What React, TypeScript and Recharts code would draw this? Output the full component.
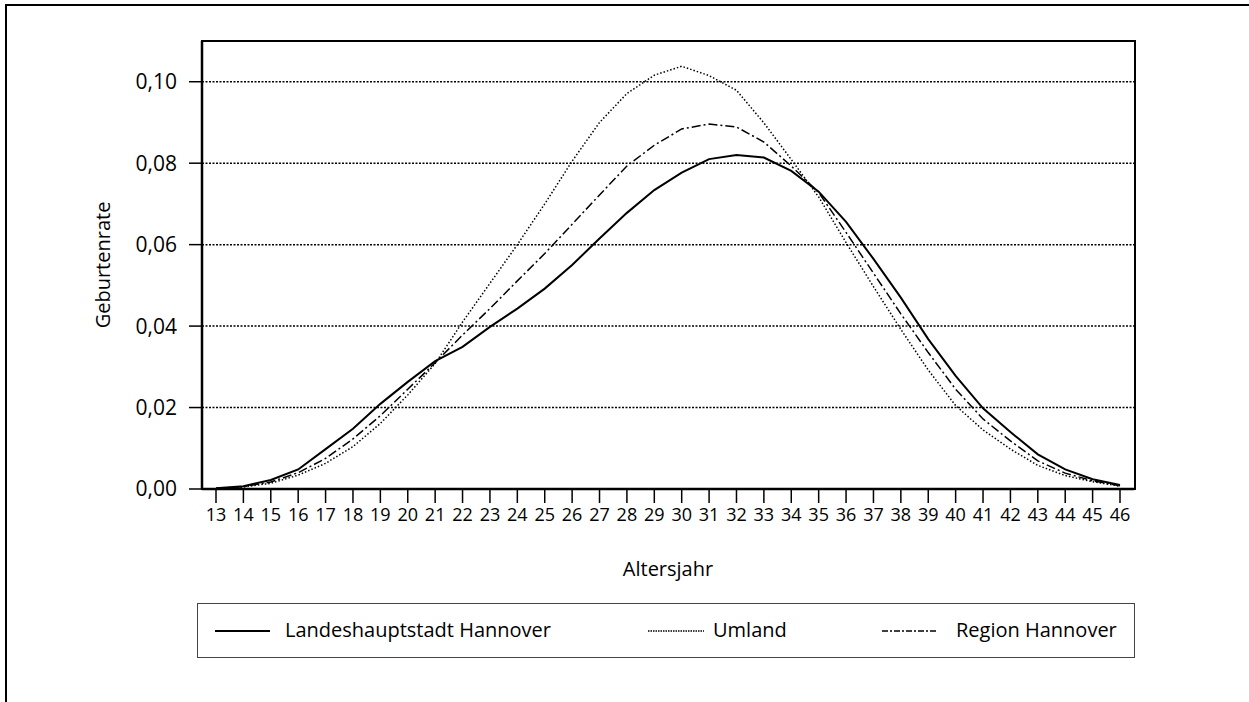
import React from 'react';
import { LineChart, Line, XAxis, YAxis, CartesianGrid } from 'recharts';

const ages = [13, 14, 15, 16, 17, 18, 19, 20, 21, 22, 23, 24, 25, 26, 27, 28, 29, 30, 31, 32, 33, 34, 35, 36, 37, 38, 39, 40, 41, 42, 43, 44, 45, 46];

const hannover = [
  0.0002, 0.0007, 0.0022, 0.0048, 0.0098, 0.0148, 0.0209, 0.0263, 0.0314, 0.0349,
  0.0398, 0.0443, 0.0492, 0.055, 0.0615, 0.0678, 0.0734, 0.0777, 0.081, 0.082,
  0.0814, 0.0781, 0.073, 0.0656, 0.0565, 0.047, 0.0368, 0.0278, 0.0198, 0.014,
  0.0085, 0.0048, 0.0024, 0.001,
];

const umland = [
  0.0001, 0.0005, 0.0014, 0.0034, 0.0063, 0.0104, 0.0161, 0.0231, 0.0308, 0.041,
  0.0505, 0.06, 0.07, 0.0805, 0.09, 0.0971, 0.1016, 0.1038, 0.1015, 0.0979,
  0.0899, 0.0809, 0.0717, 0.0605, 0.0497, 0.0392, 0.0292, 0.0205, 0.0145, 0.0098,
  0.0058, 0.0033, 0.0018, 0.0007,
];

const region = [
  0.0001, 0.0006, 0.0017, 0.004, 0.0075, 0.0123, 0.018, 0.0245, 0.031, 0.0378,
  0.0443, 0.0511, 0.0578, 0.065, 0.0722, 0.0793, 0.0844, 0.0884, 0.0896, 0.0889,
  0.0852, 0.0793, 0.0728, 0.063, 0.053, 0.043, 0.0335, 0.0245, 0.0172, 0.0118,
  0.0069, 0.0039, 0.002, 0.0008,
];

const yTicks = [0, 0.02, 0.04, 0.06, 0.08, 0.1];

const seriesNames = ['Landeshauptstadt Hannover', 'Umland', 'Region Hannover'];

const data = ages.map((age, i) => ({
  age,
  hannover: hannover[i],
  umland: umland[i],
  region: region[i],
}));

const FONT = '"Open Sans", "Noto Sans", sans-serif';

const fmt = (v: number) => v.toFixed(2).replace('.', ',');

function LegendSample({ dash, width }: { dash?: string; width: number }) {
  return (
    <svg width={width} height={10} style={{ display: 'block' }}>
      <line x1={0} y1={5} x2={width} y2={5} stroke="#000" strokeWidth={dash ? 1.5 : 2} strokeDasharray={dash} />
    </svg>
  );
}

export default function App() {
  return (
    <div style={{ position: 'absolute', left: 0, top: 0, width: 1249, height: 702, overflow: 'hidden', background: '#fff', fontFamily: FONT }}>
      {/* outer page frame, only top and left edges are visible */}
      <div style={{ position: 'absolute', left: 5, top: 4, width: 1300, height: 760, border: '2px solid #000' }} />

      <div style={{ position: 'absolute', left: 0, top: 0 }}>
        <LineChart width={1249} height={702} data={data} margin={{ top: 41, right: 115, left: 0, bottom: 123 }}>
          <CartesianGrid vertical={false} stroke="#000" strokeWidth={1.5} strokeDasharray="2 1.5" />
          <XAxis
            dataKey="age"
            type="category"
            interval={0}
            padding={{ left: 14, right: 14 }}
            height={90}
            tickSize={14}
            tickMargin={5}
            axisLine={{ stroke: '#000', strokeWidth: 2.5 }}
            tickLine={{ stroke: '#000', strokeWidth: 1.5 }}
            tick={{ fill: '#000', fontSize: 18, fontFamily: FONT }}
            label={{ value: 'Altersjahr', position: 'insideBottom', offset: 3, fill: '#000', fontSize: 20, fontFamily: FONT }}
          />
          <YAxis
            domain={[0, 0.11]}
            ticks={yTicks}
            interval={0}
            width={202}
            tickSize={13}
            tickMargin={12}
            tickFormatter={fmt}
            axisLine={{ stroke: '#000', strokeWidth: 2.5 }}
            tickLine={{ stroke: '#000', strokeWidth: 1.5 }}
            tick={{ fill: '#000', fontSize: 21, fontFamily: FONT }}
            label={{ value: 'Geburtenrate', angle: -90, position: 'center', dx: 2, fill: '#000', fontSize: 20, fontFamily: FONT }}
          />
          <Line dataKey="umland" name={seriesNames[1]} stroke="#000" strokeWidth={1.5} strokeDasharray="1.5 2" dot={false} isAnimationActive={false} />
          <Line dataKey="region" name={seriesNames[2]} stroke="#000" strokeWidth={1.5} strokeDasharray="9 3 2 3" dot={false} isAnimationActive={false} />
          <Line dataKey="hannover" name={seriesNames[0]} stroke="#000" strokeWidth={2} dot={false} isAnimationActive={false} />
        </LineChart>
      </div>

      {/* plot area frame */}
      <div style={{ position: 'absolute', left: 201, top: 40, width: 935, height: 450, boxSizing: 'border-box', border: '2px solid #000', pointerEvents: 'none' }} />

      <div style={{ position: 'absolute', left: 197, top: 603, width: 936, height: 53, border: '1px solid #444', fontSize: 20, color: '#000' }}>
        <div style={{ position: 'absolute', left: 17, top: 22 }}><LegendSample width={55} /></div>
        <div style={{ position: 'absolute', left: 87, top: 12, whiteSpace: 'nowrap' }}>{seriesNames[0]}</div>
        <div style={{ position: 'absolute', left: 450, top: 22 }}><LegendSample width={56} dash="1.5 1" /></div>
        <div style={{ position: 'absolute', left: 515, top: 12, whiteSpace: 'nowrap' }}>{seriesNames[1]}</div>
        <div style={{ position: 'absolute', left: 684, top: 22 }}><LegendSample width={54} dash="6 2 2 2" /></div>
        <div style={{ position: 'absolute', left: 758, top: 12, whiteSpace: 'nowrap' }}>{seriesNames[2]}</div>
      </div>
    </div>
  );
}
